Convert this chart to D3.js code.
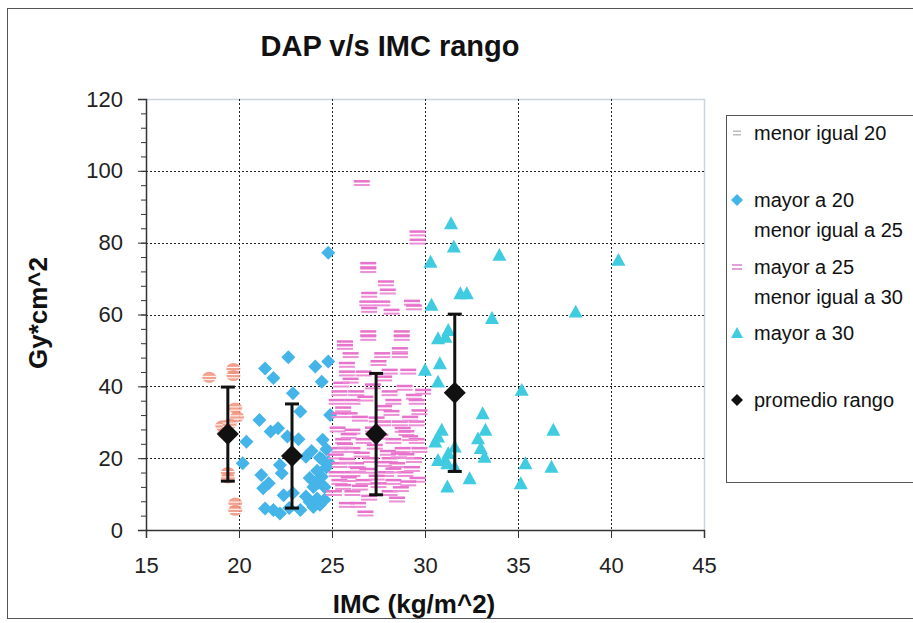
<!DOCTYPE html>
<html>
<head>
<meta charset="utf-8">
<script src="https://cdn.jsdelivr.net/npm/d3@7"></script>
<style>
  body { margin: 0; background: #fff; }
  svg { display: block; font-family: "Liberation Sans", Arial, sans-serif; }
</style>
</head>
<body>
<div id="chart"></div>
<script>
// IMC (x) vs DAP (y), one array of [imc, dap] pairs per range
const menorIgual20 = [[18.4, 42.5], [19.7, 45.0], [19.7, 43.0], [19.8, 34.0], [19.9, 31.5], [19.1, 29.0],
    [19.5, 29.5], [19.2, 27.0], [19.4, 16.0], [19.4, 14.5], [19.8, 7.5], [19.8, 5.5]];

const mayor20 = [[24.8, 77.2], [22.65, 48.1], [21.4, 45.0], [21.85, 42.3], [24.1, 45.5], [24.8, 46.9],
    [24.45, 41.3], [22.9, 38.1], [23.3, 33.0], [24.9, 32.0], [21.1, 30.6], [21.7, 27.4], [22.1, 28.3],
    [22.6, 26.0], [23.2, 25.3], [20.4, 24.6], [24.5, 25.1], [23.6, 20.4], [20.2, 18.6], [24.35, 20.1],
    [24.8, 18.9], [22.2, 18.1], [22.3, 15.8], [21.2, 15.3], [21.6, 13.0], [21.3, 11.6], [23.8, 14.5],
    [24.0, 12.0], [24.25, 13.1], [22.4, 9.7], [22.9, 10.3], [23.6, 9.3], [24.2, 8.8], [24.6, 8.4],
    [21.4, 6.0], [21.85, 5.6], [22.2, 4.6], [22.7, 6.1], [23.3, 5.6], [24.0, 6.4], [24.35, 7.0],
    [23.8, 7.8], [24.5, 19.5], [24.7, 17.5], [24.45, 14.8], [24.6, 12.0], [24.2, 16.5], [23.9, 22.0],
    [24.7, 22.5]];

const mayor25 = [[26.6, 96.6], [29.6, 82.6], [29.6, 80.3], [26.95, 73.8], [26.95, 72.4], [27.9, 68.7],
    [28.0, 66.4], [27.0, 65.5], [26.9, 63.1], [27.7, 63.1], [29.3, 63.3], [27.0, 61.3], [28.2, 60.8],
    [29.4, 62.0], [26.95, 54.8], [28.75, 54.8], [26.95, 53.5], [28.75, 53.5], [25.7, 52.0], [25.7, 51.0],
    [26.0, 48.7], [27.7, 48.7], [28.65, 48.7], [28.65, 50.1], [27.5, 46.5], [25.8, 46.0], [28.1, 44.1],
    [29.1, 44.1], [25.8, 43.6], [26.7, 43.6], [25.4, 38.1], [26.3, 38.1], [28.1, 38.1], [29.4, 37.1],
    [25.25, 35.7], [26.1, 35.7], [28.3, 35.7], [29.55, 35.7], [25.4, 32.0], [25.95, 32.0], [27.75, 29.7],
    [28.65, 29.7], [29.55, 29.7], [28.8, 27.9], [26.1, 27.4], [25.6, 24.8], [26.7, 24.8], [28.3, 24.8],
    [29.55, 24.8], [25.4, 22.3], [26.1, 22.3], [28.8, 22.3], [29.7, 22.3], [27.1, 19.5], [28.1, 19.5],
    [29.4, 19.5], [25.4, 18.1], [26.3, 18.1], [28.5, 18.1], [25.25, 15.6], [26.1, 15.6], [27.9, 15.6],
    [28.95, 15.6], [25.4, 13.4], [26.7, 13.4], [28.3, 13.4], [25.1, 10.3], [26.1, 10.3], [28.1, 10.3],
    [25.8, 7.0], [26.4, 7.0], [26.8, 4.6], [25.3, 28.0], [27.2, 28.0], [29.0, 27.0], [25.2, 20.5],
    [26.6, 21.0], [28.0, 21.5], [29.3, 17.0], [26.9, 16.5], [25.6, 12.0], [27.5, 12.5], [29.6, 14.0],
    [27.0, 9.0], [28.5, 8.5], [29.2, 31.0], [26.5, 31.0], [27.8, 34.0], [25.5, 40.5], [27.2, 40.0],
    [29.9, 38.5], [25.9, 26.2], [27.6, 26.0], [29.2, 25.6], [25.7, 23.5], [27.3, 23.2], [28.6, 20.8],
    [25.8, 19.3], [27.8, 18.4], [29.0, 20.6], [26.4, 16.8], [28.3, 16.6], [25.9, 14.2], [27.4, 14.6],
    [29.1, 13.0], [26.5, 11.8], [28.7, 11.4], [25.6, 33.6], [27.4, 30.8], [28.2, 32.6], [29.7, 32.8],
    [26.8, 36.6], [28.9, 39.6], [26.0, 41.6], [27.8, 42.2]];

const mayor30 = [[31.4, 85.4], [31.55, 78.9], [34.0, 76.6], [30.3, 74.7], [40.4, 75.2], [31.9, 65.9],
    [32.25, 65.9], [30.35, 62.7], [33.6, 59.0], [38.1, 60.8], [31.25, 55.7], [30.7, 53.4], [31.1, 53.8],
    [30.8, 46.4], [30.0, 44.6], [30.7, 41.3], [35.2, 39.0], [33.1, 32.5], [33.25, 27.9], [32.85, 25.5],
    [30.9, 27.9], [30.7, 26.0], [30.55, 24.6], [33.0, 22.8], [33.2, 20.4], [31.6, 23.2], [31.25, 21.4],
    [31.1, 19.5], [30.7, 19.5], [31.2, 18.6], [31.6, 17.6], [36.9, 27.9], [35.4, 18.6], [36.8, 17.6],
    [32.4, 14.4], [31.2, 12.1], [35.15, 13.0]];

// promedio por rango, +/- desviacion
const promedioX = [19.4, 22.85, 27.37, 31.6];
const promedioY = [26.7, 20.6, 26.7, 38.2];
const promedioDE = [13.1, 14.5, 16.9, 21.9];

const xTicks = [15, 20, 25, 30, 35, 40, 45];
const yTicks = [0, 20, 40, 60, 80, 100, 120];
const legendLabels = [["menor igual 20"], ["mayor a 20", "menor igual a 25"],
    ["mayor a 25", "menor igual a 30"], ["mayor a 30"], ["promedio rango"]];

const width = 913, height = 623;
const plot = { left: 146, right: 704, top: 99, bottom: 530 };

const svg = d3.select("#chart").append("svg")
    .attr("width", width)
    .attr("height", height);

// outer chart frame
svg.append("rect")
    .attr("x", 7.5).attr("y", 8.5)
    .attr("width", 940).attr("height", 610)
    .attr("fill", "none")
    .attr("stroke", "#555")
    .attr("stroke-width", 1);

const x = d3.scaleLinear().domain([15, 45]).range([plot.left, plot.right]);
const y = d3.scaleLinear().domain([0, 120]).range([plot.bottom, plot.top]);

// plot area border (faint top/right)
svg.append("path")
    .attr("d", `M${plot.left},${plot.top + 0.5}H${plot.right + 0.5}V${plot.bottom}`)
    .attr("fill", "none")
    .attr("stroke", "#c9d6e0")
    .attr("stroke-width", 1.5);

// dotted gridlines
const grid = svg.append("g");
grid.selectAll(".hgrid")
    .data(yTicks.filter(d => d > 0 && d < 120))
    .join("line")
    .attr("x1", plot.left).attr("x2", plot.right)
    .attr("y1", d => Math.round(y(d)) + 0.5).attr("y2", d => Math.round(y(d)) + 0.5)
    .attr("stroke", "#222")
    .attr("stroke-dasharray", "2,2");
grid.selectAll(".vgrid")
    .data(xTicks.filter(d => d > 15 && d < 45))
    .join("line")
    .attr("x1", d => Math.round(x(d)) + 0.5).attr("x2", d => Math.round(x(d)) + 0.5)
    .attr("y1", plot.top).attr("y2", plot.bottom)
    .attr("stroke", "#222")
    .attr("stroke-dasharray", "2,2");

// axes
const yAxis = d3.axisLeft(y).tickValues(yTicks).tickSize(8).tickPadding(15);
const yMinor = d3.axisLeft(y).tickValues(d3.range(0, 121, 4)).tickSize(5).tickFormat("");
const xAxis = d3.axisBottom(x).tickValues(xTicks).tickSize(8).tickPadding(19);

svg.append("g")
    .attr("transform", `translate(${plot.left},0)`)
    .call(yMinor)
    .call(g => g.select(".domain").remove())
    .call(g => g.selectAll("line").attr("stroke", "#333"));

svg.append("g")
    .attr("transform", `translate(${plot.left},0)`)
    .call(yAxis)
    .call(g => g.select(".domain").attr("stroke", "#333").attr("stroke-width", 1.5))
    .call(g => g.selectAll("line").attr("stroke", "#333"))
    .call(g => g.selectAll("text").attr("font-size", 22).attr("fill", "#222")
        .attr("font-family", "Liberation Sans, Arial, sans-serif"));

svg.append("g")
    .attr("transform", `translate(0,${plot.bottom})`)
    .call(xAxis)
    .call(g => g.select(".domain").attr("stroke", "#333").attr("stroke-width", 1.5))
    .call(g => g.selectAll("line").attr("stroke", "#333"))
    .call(g => g.selectAll("text").attr("font-size", 22).attr("fill", "#222")
        .attr("font-family", "Liberation Sans, Arial, sans-serif"));

// series markers
const marks = svg.append("g");

// menor igual 20: striped round markers
const g1 = marks.selectAll(".m20")
    .data(menorIgual20)
    .join("g")
    .attr("transform", d => `translate(${x(d[0])},${y(d[1])})`);
g1.append("ellipse").attr("rx", 7).attr("ry", 5.5).attr("fill", "#f0907a").attr("opacity", 0.85);
g1.append("rect").attr("x", -7).attr("y", -1.5).attr("width", 14).attr("height", 1).attr("fill", "#fff");
g1.append("rect").attr("x", -7).attr("y", 1.8).attr("width", 14).attr("height", 1).attr("fill", "#fff");

// mayor a 20: blue diamonds
const diamond = s => `M0,${-s}L${s},0L0,${s}L${-s},0Z`;
marks.selectAll(".m25")
    .data(mayor20)
    .join("path")
    .attr("d", diamond(7))
    .attr("transform", d => `translate(${x(d[0])},${y(d[1])})`)
    .attr("fill", "#45b4e8");

// mayor a 25: pink dash markers
const g3 = marks.selectAll(".m30")
    .data(mayor25)
    .join("g")
    .attr("transform", d => `translate(${x(d[0])},${y(d[1])})`);
g3.append("rect").attr("x", -8).attr("y", -3).attr("width", 16).attr("height", 2.5).attr("fill", "#e873cc");
g3.append("rect").attr("x", -8).attr("y", 1).attr("width", 16).attr("height", 2).attr("fill", "#ec8fd6");

// mayor a 30: cyan triangles
const triangle = s => `M0,${-s}L${s},${s * 0.85}L${-s},${s * 0.85}Z`;
marks.selectAll(".m35")
    .data(mayor30)
    .join("path")
    .attr("d", triangle(7))
    .attr("transform", d => `translate(${x(d[0])},${y(d[1])})`)
    .attr("fill", "#3fcbe0");

// promedio rango with error bars
const promedio = promedioX.map((px, i) => ({ x: px, y: promedioY[i], de: promedioDE[i] }));
const avg = svg.append("g").selectAll("g")
    .data(promedio)
    .join("g");
avg.append("line")
    .attr("x1", d => x(d.x)).attr("x2", d => x(d.x))
    .attr("y1", d => y(d.y + d.de)).attr("y2", d => y(d.y - d.de))
    .attr("stroke", "#111").attr("stroke-width", 3);
avg.selectAll(".cap")
    .data(d => [d.y + d.de, d.y - d.de].map(v => ({ x: d.x, v: v })))
    .join("line")
    .attr("x1", d => x(d.x) - 7).attr("x2", d => x(d.x) + 7)
    .attr("y1", d => y(d.v)).attr("y2", d => y(d.v))
    .attr("stroke", "#111").attr("stroke-width", 3);
avg.append("path")
    .attr("d", diamond(11))
    .attr("transform", d => `translate(${x(d.x)},${y(d.y)})`)
    .attr("fill", "#111");

// titles
svg.append("text")
    .attr("x", 390).attr("y", 56)
    .attr("text-anchor", "middle")
    .attr("font-size", 29).attr("font-weight", "bold")
    .attr("fill", "#111")
    .text("DAP v/s IMC rango");

svg.append("text")
    .attr("x", 414).attr("y", 613)
    .attr("text-anchor", "middle")
    .attr("font-size", 26).attr("font-weight", "bold")
    .attr("fill", "#111")
    .text("IMC (kg/m^2)");

svg.append("text")
    .attr("transform", "translate(47,313) rotate(-90)")
    .attr("text-anchor", "middle")
    .attr("font-size", 26).attr("font-weight", "bold")
    .attr("fill", "#111")
    .text("Gy*cm^2");

// legend
const legend = svg.append("g");
legend.append("rect")
    .attr("x", 726.5).attr("y", 115.5)
    .attr("width", 220).attr("height", 367)
    .attr("fill", "#fff")
    .attr("stroke", "#555");

const legendY = [133, 200, 267, 333, 400];
const item = legend.selectAll(".item")
    .data(legendLabels)
    .join("g")
    .attr("transform", (d, i) => `translate(737,${legendY[i]})`);

item.each(function (d, i) {
    const g = d3.select(this);
    if (i === 0) {
        g.append("rect").attr("x", -4).attr("y", -2.5).attr("width", 8).attr("height", 1.5).attr("fill", "#bbb");
        g.append("rect").attr("x", -4).attr("y", 1).attr("width", 8).attr("height", 1.5).attr("fill", "#bbb");
    } else if (i === 1) {
        g.append("path").attr("d", diamond(6)).attr("fill", "#45b4e8");
    } else if (i === 2) {
        g.append("rect").attr("x", -5).attr("y", -3).attr("width", 10).attr("height", 2).attr("fill", "#e0a0dc");
        g.append("rect").attr("x", -5).attr("y", 1).attr("width", 10).attr("height", 2).attr("fill", "#e0a0dc");
    } else if (i === 3) {
        g.append("path").attr("d", triangle(6)).attr("fill", "#3fcbe0");
    } else {
        g.append("path").attr("d", diamond(6)).attr("fill", "#111");
    }
    g.selectAll("text")
        .data(d)
        .join("text")
        .attr("x", 17)
        .attr("y", (t, j) => 7 + j * 30)
        .attr("font-size", 20)
        .attr("fill", "#111")
        .text(t => t);
});
</script>
</body>
</html>
